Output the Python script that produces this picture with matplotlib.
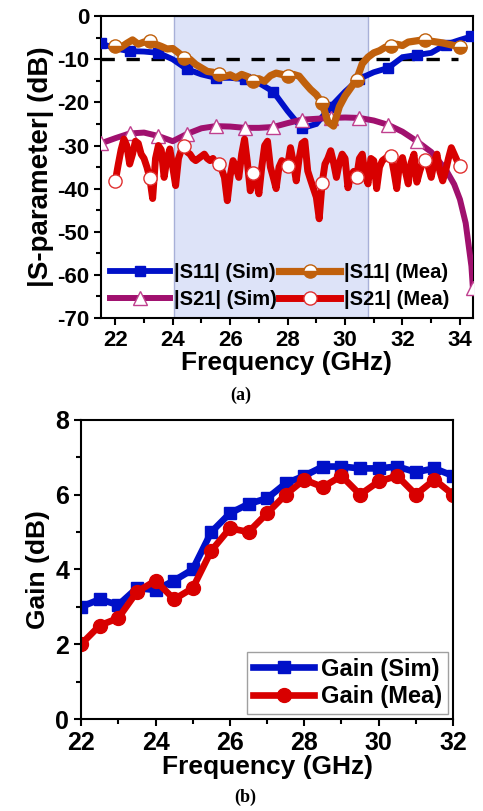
import numpy as np
import matplotlib
matplotlib.use('Agg')
import matplotlib.pyplot as plt
from matplotlib.ticker import MultipleLocator

plt.rcParams['font.family'] = ['Liberation Sans', 'DejaVu Sans']
plt.rcParams['font.weight'] = 'bold'
plt.rcParams['axes.unicode_minus'] = False

# ---- (a) S-parameters ----
s11_sim_f = [21.5, 22.0, 22.5, 23.0, 23.5, 24.0, 24.5, 25.0, 25.5, 26.0, 26.5, 27.0, 27.5, 28.0,
             28.5, 29.0, 29.5, 30.0, 30.5, 31.0, 31.5, 32.0, 32.5, 33.0, 33.5, 34.0, 34.4]
s11_sim = [-6.3, -7.5, -8.1, -8.2, -8.5, -10.0, -12.3, -13.5, -14.3, -14.3, -14.6, -15.5, -17.5, -22.0,
           -26.0, -25.0, -21.0, -17.5, -14.5, -13.0, -12.0, -9.5, -9.0, -8.5, -6.6, -5.5, -4.7]

s11_mea_f = np.round(np.arange(22.0, 34.01, 0.2), 2)
s11_mea = [-7.0, -7.2, -6.3, -5.5, -6.5, -6.0, -5.7, -6.5, -7.0, -7.6,
           -7.5, -8.5, -9.7, -10.0, -11.2, -12.0, -12.8, -13.0, -13.4, -14.0,
           -13.6, -14.3, -13.5, -14.0, -15.1, -14.5, -15.1, -13.8, -13.2, -13.5,
           -13.8, -13.5, -13.9, -15.5, -17.0, -18.2, -20.1, -24.5, -25.5, -21.0,
           -18.5, -16.6, -14.7, -11.0, -9.5, -8.5, -8.0, -7.2, -6.8, -6.5,
           -6.8, -6.0, -5.8, -5.6, -5.5, -5.8, -6.0, -6.2, -6.5, -6.8, -7.2]

s21_sim_f = [21.5, 22.0, 22.5, 23.0, 23.5, 24.0, 24.5, 25.0, 25.5, 26.0, 26.5, 27.0, 27.5, 28.0,
             28.5, 29.0, 29.5, 30.0, 30.5, 31.0, 31.5, 32.0, 32.5, 33.0, 33.5, 33.8, 34.0, 34.2,
             34.3, 34.4, 34.45]
s21_sim = [-29.5, -28.3, -27.2, -27.0, -27.8, -29.0, -27.3, -26.0, -25.5, -25.6, -25.9, -25.9, -25.7,
           -24.8, -24.0, -23.8, -23.6, -23.5, -23.6, -24.2, -25.2, -26.8, -29.0, -31.5, -35.5,
           -39.0, -42.5, -48.0, -53.0, -58.0, -63.0]
s21_sim_marks = [0, 2, 4, 6, 8, 10, 12, 14, 16, 18, 20, 22, 30]

s21_mea_f = np.round(np.arange(22.0, 34.01, 0.1), 2)
s21_mea = [-38.3, -34.5, -31.0, -28.5, -30.0, -34.3, -32.0, -29.0, -29.5, -32.0,
           -33.0, -35.0, -37.5, -42.3, -33.0, -30.0, -31.0, -37.4, -33.0, -30.8,
           -35.0, -39.3, -33.0, -31.0, -30.2, -31.5, -32.0, -33.0, -33.5, -33.0,
           -32.5, -32.0, -33.0, -33.5, -33.0, -34.0, -34.3, -35.5, -37.4, -42.8,
           -37.0, -33.5, -35.0, -37.4, -32.0, -28.5, -34.0, -40.5, -36.3, -38.0,
           -41.2, -35.0, -30.0, -29.0, -35.0, -37.4, -40.0, -35.0, -33.5, -34.0,
           -34.7, -30.5, -34.0, -38.2, -33.0, -29.5, -29.0, -35.9, -38.0, -40.0,
           -42.0, -47.0, -38.8, -34.3, -33.0, -31.2, -34.0, -37.4, -34.0, -32.0,
           -33.0, -39.8, -37.0, -36.0, -37.4, -33.0, -32.0, -37.0, -38.9, -33.0,
           -33.5, -40.0, -35.0, -33.5, -33.0, -32.5, -32.4, -36.0, -40.0, -34.0,
           -32.8, -36.0, -38.9, -34.0, -32.0, -38.5, -36.0, -34.0, -33.3, -35.0,
           -37.4, -34.0, -32.0, -36.0, -38.2, -35.9, -33.0, -30.5, -32.0, -33.5, -34.7]

threshold = -10
band = (24.05, 30.8)

# ---- (b) Gain ----
gain_f = [22.0, 22.5, 23.0, 23.5, 24.0, 24.5, 25.0, 25.5, 26.0, 26.5, 27.0,
          27.5, 28.0, 28.5, 29.0, 29.5, 30.0, 30.5, 31.0, 31.5, 32.0]
gain_sim = [3.0, 3.2, 3.05, 3.5, 3.45, 3.7, 4.0, 5.0, 5.5, 5.75, 5.9,
            6.3, 6.5, 6.75, 6.75, 6.7, 6.7, 6.75, 6.6, 6.7, 6.5]
gain_mea = [2.0, 2.5, 2.7, 3.4, 3.7, 3.2, 3.5, 4.5, 5.1, 5.0, 5.5,
            6.0, 6.4, 6.2, 6.5, 6.0, 6.35, 6.5, 6.0, 6.4, 6.0]

blue = '#0010C8'
brown = '#C0600C'
purple = '#A0106E'
red = '#D80000'

fig = plt.figure(figsize=(4.83, 8.11), dpi=100)

ax1 = fig.add_axes([0.209, 0.608, 0.770, 0.372])
ax1.axvspan(band[0], band[1], facecolor='#DDE3F8', edgecolor='#A8B0D8', linewidth=1.0, zorder=0)
ax1.axhline(threshold, xmin=0, xmax=0.96, color='black', linestyle=(0, (4, 3.5)), linewidth=2.4, zorder=1)

ax1.plot(s11_sim_f, s11_sim, color=blue, lw=4.2, marker='s', ms=7.5, markevery=2,
         solid_joinstyle='miter', label='|S11| (Sim)', zorder=3)
ax1.plot(s11_mea_f, s11_mea, color=brown, lw=5.2, marker='o', ms=9.5, markevery=6,
         fillstyle='bottom', markerfacecolor=brown, markerfacecoloralt='white',
         markeredgecolor=brown, markeredgewidth=1.0, label='|S11| (Mea)', zorder=4)
ax1.plot(s21_sim_f, s21_sim, color=purple, lw=4.3, marker='^', ms=10, markevery=s21_sim_marks,
         markerfacecolor='white', markeredgecolor='#C0408F', markeredgewidth=1.0,
         label='|S21| (Sim)', zorder=3)
ax1.plot(s21_mea_f, s21_mea, color=red, lw=5.0, marker='o', ms=9.5, markevery=12,
         markerfacecolor='white', markeredgecolor='#E03030', markeredgewidth=1.0,
         label='|S21| (Mea)', zorder=4)

ax1.set_xlim(21.5, 34.45)
ax1.set_ylim(-70, 0)
ax1.xaxis.set_major_locator(MultipleLocator(2))
ax1.xaxis.set_minor_locator(MultipleLocator(1))
ax1.yaxis.set_major_locator(MultipleLocator(10))
ax1.yaxis.set_minor_locator(MultipleLocator(5))
ax1.tick_params(which='both', direction='out', width=1.5, labelsize=16, top=False, right=False)
ax1.tick_params(which='major', length=5)
ax1.tick_params(which='minor', length=3.5)
ax1.set_xlabel('Frequency (GHz)', fontsize=19, fontweight='bold', labelpad=0)
ax1.set_ylabel('|S-parameter| (dB)', fontsize=20, fontweight='bold', labelpad=2)
for s in ax1.spines.values():
    s.set_linewidth(1.5)

h, l = ax1.get_legend_handles_labels()
order = [0, 2, 1, 3]
leg1 = ax1.legend([h[i] for i in order], [l[i] for i in order], ncol=2, loc='lower left',
                  fontsize=14.5, handlelength=3.0, handletextpad=0.2, columnspacing=0.1,
                  borderpad=0.3, labelspacing=0.4, borderaxespad=0.15,
                  frameon=True, fancybox=False, framealpha=0)
leg1.get_frame().set_edgecolor('#A0A0A0')
leg1.get_frame().set_linewidth(1.0)

fig.text(0.499, 0.513, '(a)', ha='center', va='center', fontsize=13, fontweight='bold',
         family=['Liberation Serif', 'DejaVu Serif'])

ax2 = fig.add_axes([0.168, 0.1134, 0.770, 0.369])
ax2.plot(gain_f, gain_sim, color=blue, lw=4.8, marker='s', ms=9, label='Gain (Sim)')
ax2.plot(gain_f, gain_mea, color=red, lw=4.8, marker='o', ms=10, label='Gain (Mea)')
ax2.set_xlim(22, 32)
ax2.set_ylim(0, 8)
ax2.xaxis.set_major_locator(MultipleLocator(2))
ax2.xaxis.set_minor_locator(MultipleLocator(1))
ax2.yaxis.set_major_locator(MultipleLocator(2))
ax2.yaxis.set_minor_locator(MultipleLocator(1))
ax2.tick_params(which='both', direction='out', width=1.5, labelsize=18, top=False, right=False)
ax2.tick_params(which='major', length=5)
ax2.tick_params(which='minor', length=3.5)
ax2.set_xlabel('Frequency (GHz)', fontsize=19, fontweight='bold', labelpad=0)
ax2.set_ylabel('Gain (dB)', fontsize=19, fontweight='bold', labelpad=4)
for s in ax2.spines.values():
    s.set_linewidth(1.5)
leg2 = ax2.legend(loc='lower right', fontsize=17, handlelength=2.6, handletextpad=0.3,
                  borderpad=0.25, labelspacing=0.2, borderaxespad=0.2,
                  frameon=True, fancybox=False, framealpha=1)
leg2.get_frame().set_edgecolor('#A0A0A0')
leg2.get_frame().set_linewidth(1.0)

fig.text(0.507, 0.017, '(b)', ha='center', va='center', fontsize=13, fontweight='bold',
         family=['Liberation Serif', 'DejaVu Serif'])

fig.savefig('out.png', dpi=100)
